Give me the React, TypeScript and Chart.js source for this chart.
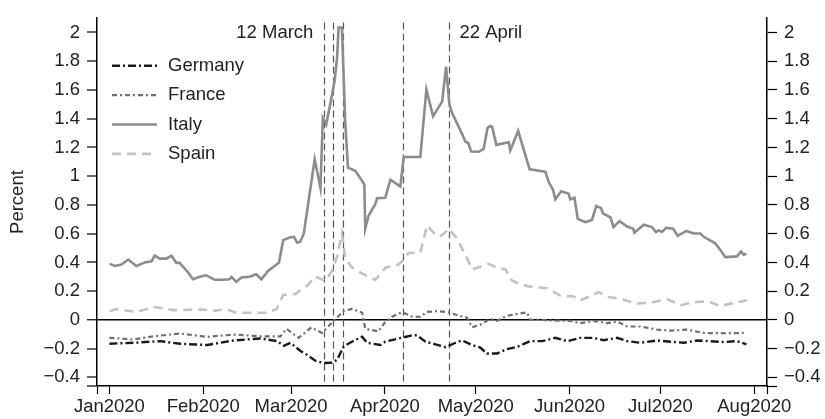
import React, { useEffect, useRef } from 'react';
import { Chart, registerables } from 'chart.js';

Chart.register(...registerables);

// ---- axis / tick data ----
const monthStartDays = [0, 31, 60, 91, 121, 152, 182, 213]; // days since 1 Jan 2020
const monthLabels = ['Jan2020', 'Feb2020', 'Mar2020', 'Apr2020', 'May2020', 'Jun2020', 'Jul2020', 'Aug2020'];
const xMin = -4.1;
const xMax = 217.2;
const yMin = -0.46;
const yMax = 2.1;
const yTickValues = [-0.4, -0.2, 0, 0.2, 0.4, 0.6, 0.8, 1, 1.2, 1.4, 1.6, 1.8, 2];

// event markers (days since 1 Jan 2020)
const eventDays = [71, 74, 77, 97, 112];
const eventLabelTexts = ['12 March', '22 April'];
const eventLabelDays = [71, 112];
const eventLabelSides = ['left', 'right'];
const eventLineTop = 2.07;
const eventLabelLevel = 2.0;

// ---- series (x = days since 1 Jan 2020, y = percent) ----
const germanyDays = [0, 8, 16.8, 23.4, 32.3, 41, 49.9, 55.4, 57.6, 59.8, 63.1, 64.7, 68, 70.8, 73.5, 75.2, 77.4, 80.2, 83.5, 85.1, 89.5, 91.1, 96.4, 100, 101.6, 104.4, 107.7, 111, 114.3, 116.5, 119.8, 122.5, 124.7, 128, 131.3, 134.6, 139, 142.9, 147.3, 151.2, 155.5, 159.9, 163.2, 167.7, 171, 175.4, 180.9, 185.3, 189.7, 194.1, 198.5, 202.9, 207.3, 210.4];
const germanyValues = [-0.166, -0.159, -0.148, -0.166, -0.175, -0.143, -0.129, -0.148, -0.18, -0.159, -0.216, -0.235, -0.284, -0.3, -0.298, -0.278, -0.184, -0.15, -0.117, -0.159, -0.175, -0.152, -0.125, -0.107, -0.107, -0.152, -0.17, -0.19, -0.159, -0.143, -0.175, -0.193, -0.234, -0.234, -0.204, -0.188, -0.148, -0.148, -0.125, -0.148, -0.125, -0.125, -0.141, -0.125, -0.148, -0.159, -0.143, -0.152, -0.159, -0.143, -0.148, -0.154, -0.148, -0.17];

const franceDays = [0, 8, 14.6, 23.4, 32.3, 41, 49.9, 56.5, 58.5, 62.5, 66.7, 70.2, 73, 74.1, 77.4, 80.2, 83.5, 84.5, 88.8, 90.9, 93.4, 96.7, 100, 102.7, 104.9, 108.7, 112.1, 115.4, 118.1, 119.8, 122.5, 125.8, 128, 131.3, 135.7, 137.9, 139, 142.9, 146.7, 152.2, 155.5, 159.9, 164.4, 167.7, 171, 175.4, 180.9, 185.3, 190.8, 196.3, 202.9, 209.5];
const franceValues = [-0.125, -0.136, -0.114, -0.095, -0.118, -0.102, -0.114, -0.114, -0.062, -0.125, -0.052, -0.091, -0.03, -0.005, 0.062, 0.077, 0.05, -0.062, -0.08, -0.02, 0.022, 0.054, 0.022, 0.022, 0.056, 0.061, 0.052, 0.029, 0.016, -0.052, -0.034, 0.007, -0.007, 0.029, 0.045, 0.052, 0, 0, -0.005, -0.007, -0.023, -0.007, -0.023, -0.011, -0.046, -0.046, -0.068, -0.075, -0.068, -0.091, -0.093, -0.091];

const italyDays = [0.1, 1.8, 4, 6.2, 8.9, 11.7, 13.9, 15, 16.6, 18.8, 20.5, 22.1, 23.2, 26, 27.6, 29.8, 32, 34.8, 37.5, 39.7, 40.3, 41.9, 43.6, 46.3, 48.5, 50.2, 52.4, 55.2, 56, 57.4, 59.5, 61, 62, 63, 64.2, 67.8, 69.7, 70.5, 71.6, 73, 74.4, 75.2, 75.7, 76.8, 77.9, 78.8, 81.2, 82.9, 84.2, 84.5, 85.6, 87.8, 88.4, 91.1, 92.8, 96.1, 97.2, 102.7, 104.7, 106.9, 109.9, 111.2, 112.3, 113.2, 116.5, 117.6, 118.5, 119.5, 122, 123.6, 124.9, 125.8, 126.4, 127.8, 131.9, 132.4, 135, 138.8, 144, 145.1, 146.5, 147.3, 149.2, 151.7, 152.2, 153.6, 154.7, 157.2, 159.4, 160.8, 162.4, 163, 165.5, 166.5, 168.5, 171, 173, 173.4, 176.5, 179.2, 180.5, 181.4, 182.5, 183.9, 186.2, 187.7, 190.6, 193, 195.2, 196.3, 200.1, 201.8, 203.4, 207.3, 208.6, 209.5, 210.4];
const italyValues = [0.39, 0.375, 0.385, 0.42, 0.375, 0.4, 0.408, 0.448, 0.426, 0.426, 0.446, 0.397, 0.397, 0.33, 0.283, 0.3, 0.31, 0.279, 0.279, 0.283, 0.299, 0.265, 0.295, 0.3, 0.317, 0.283, 0.34, 0.385, 0.397, 0.555, 0.573, 0.578, 0.537, 0.544, 0.6, 1.118, 0.918, 1.405, 1.36, 1.507, 1.667, 1.825, 2.034, 2.034, 1.371, 1.059, 1.038, 0.986, 0.941, 0.635, 0.725, 0.805, 0.846, 0.85, 0.975, 0.929, 1.133, 1.133, 1.603, 1.417, 1.519, 1.762, 1.497, 1.44, 1.293, 1.24, 1.231, 1.172, 1.17, 1.19, 1.337, 1.349, 1.344, 1.218, 1.236, 1.179, 1.315, 1.048, 1.031, 0.959, 0.907, 0.839, 0.895, 0.877, 0.839, 0.85, 0.703, 0.68, 0.696, 0.793, 0.778, 0.741, 0.714, 0.646, 0.687, 0.65, 0.635, 0.607, 0.662, 0.646, 0.612, 0.623, 0.612, 0.641, 0.635, 0.585, 0.619, 0.601, 0.601, 0.578, 0.533, 0.487, 0.437, 0.442, 0.476, 0.453, 0.46];

const spainDays = [0.1, 2.3, 8.9, 15, 21, 30.9, 33.7, 38.6, 41.9, 51.8, 55.2, 57.4, 61.4, 65.3, 68, 71.3, 73.5, 75.2, 76.8, 77.9, 80.2, 84, 87.8, 90, 91.1, 95.5, 97.2, 98.8, 102.7, 104.9, 108.2, 109.9, 112.1, 114.8, 118.1, 119.8, 125.3, 128, 130.8, 133, 135.7, 138.5, 144.5, 148.9, 153.3, 155.5, 158.8, 161.6, 164.9, 168.8, 174.3, 179.8, 184.2, 189.1, 191.9, 197.4, 201.8, 206.2, 210.6];
const spainValues = [0.061, 0.075, 0.056, 0.09, 0.068, 0.072, 0.061, 0.075, 0.05, 0.05, 0.075, 0.174, 0.181, 0.238, 0.301, 0.272, 0.34, 0.442, 0.6, 0.43, 0.363, 0.317, 0.279, 0.329, 0.363, 0.385, 0.419, 0.465, 0.469, 0.657, 0.582, 0.589, 0.635, 0.567, 0.43, 0.351, 0.39, 0.363, 0.351, 0.272, 0.249, 0.233, 0.22, 0.17, 0.163, 0.136, 0.165, 0.193, 0.159, 0.147, 0.113, 0.124, 0.143, 0.102, 0.12, 0.131, 0.097, 0.118, 0.136];

const FONT = '"Liberation Sans", Arial, Helvetica, sans-serif';
const FONT_SIZE = 18.5;
const TEXT = '#222';

function pts(days: number[], vals: number[]) {
  return days.map((d, i) => ({ x: d, y: vals[i] }));
}

function fmt(v: number): string {
  const r = Math.round(v * 10) / 10;
  const s = String(Math.abs(r));
  return r < 0 ? '\u2212' + s : s;
}

const eventPlugin = {
  id: 'eventLines',
  beforeDatasetsDraw(chart: any) {
    const { ctx, chartArea, scales } = chart;
    const xs = scales.x;
    const ys = scales.y;
    ctx.save();
    ctx.strokeStyle = '#555';
    ctx.lineWidth = 1.2;
    ctx.setLineDash([7, 4]);
    const top = ys.getPixelForValue(eventLineTop);
    for (const d of eventDays) {
      const px = Math.round(xs.getPixelForValue(d)) + 0.5;
      ctx.beginPath();
      ctx.moveTo(px, top);
      ctx.lineTo(px, chartArea.bottom);
      ctx.stroke();
    }
    ctx.setLineDash([]);
    ctx.font = FONT_SIZE + 'px ' + FONT;
    ctx.fillStyle = TEXT;
    ctx.textBaseline = 'middle';
    eventLabelTexts.forEach((t, i) => {
      const px = xs.getPixelForValue(eventLabelDays[i]);
      const py = ys.getPixelForValue(eventLabelLevel);
      const left = eventLabelSides[i] === 'left';
      ctx.textAlign = left ? 'right' : 'left';
      ctx.fillText(t, left ? px - 11 : px + 11, py);
    });
    ctx.restore();
  },
};

const legendPlugin = {
  id: 'customLegend',
  afterDraw(chart: any) {
    const { ctx } = chart;
    ctx.save();
    const x0 = 112;
    const x1 = 157;
    const tx = 168;
    const y0 = 65.7;
    const step = 29.4;
    chart.data.datasets.forEach((ds: any, i: number) => {
      const y = y0 + i * step;
      ctx.strokeStyle = ds.borderColor;
      ctx.lineWidth = ds.borderWidth;
      ctx.setLineDash(ds.borderDash || []);
      ctx.beginPath();
      ctx.moveTo(x0, y);
      ctx.lineTo(x1, y);
      ctx.stroke();
      ctx.setLineDash([]);
      ctx.font = FONT_SIZE + 'px ' + FONT;
      ctx.fillStyle = TEXT;
      ctx.textAlign = 'left';
      ctx.textBaseline = 'middle';
      ctx.fillText(ds.label, tx, y);
    });
    ctx.restore();
  },
};

export default function App() {
  const ref = useRef<HTMLCanvasElement | null>(null);
  useEffect(() => {
    if (!ref.current) return;
    const yTicksBuilder = (scale: any) => {
      scale.ticks = [yMin, ...yTickValues].map((v) => ({ value: v }));
    };
    const yTickCb = (value: any) => (Math.abs(value - yMin) < 1e-6 ? '' : fmt(Number(value)));
    const tickFont = { family: FONT, size: FONT_SIZE };
    const chart = new Chart(ref.current, {
      type: 'line',
      data: {
        datasets: [
          {
            label: 'Germany',
            data: pts(germanyDays, germanyValues),
            borderColor: '#1a1a1a',
            borderWidth: 2.4,
            borderDash: [8, 3, 2, 3],
            pointRadius: 0,
            tension: 0,
            fill: false,
          },
          {
            label: 'France',
            data: pts(franceDays, franceValues),
            borderColor: '#6e6e6e',
            borderWidth: 2.2,
            borderDash: [5, 3, 2, 3],
            pointRadius: 0,
            tension: 0,
            fill: false,
          },
          {
            label: 'Italy',
            data: pts(italyDays, italyValues),
            borderColor: '#8c8c8c',
            borderWidth: 2.6,
            pointRadius: 0,
            tension: 0,
            fill: false,
          },
          {
            label: 'Spain',
            data: pts(spainDays, spainValues),
            borderColor: '#c2c2c2',
            borderWidth: 2.6,
            borderDash: [9, 6],
            pointRadius: 0,
            tension: 0,
            fill: false,
          },
        ],
      },
      options: {
        animation: false,
        responsive: false,
        maintainAspectRatio: false,
        layout: { padding: { top: 10, left: 0, right: 0, bottom: 0 } },
        plugins: {
          legend: { display: false },
          tooltip: { enabled: false },
        },
        scales: {
          x: {
            type: 'linear',
            min: xMin,
            max: xMax,
            afterBuildTicks: (scale: any) => {
              scale.ticks = [xMin, ...monthStartDays, xMax].map((v) => ({ value: v }));
            },
            afterFit: (scale: any) => {
              scale.height = 33;
            },
            ticks: {
              autoSkip: false,
              maxRotation: 0,
              minRotation: 0,
              padding: 2,
              color: TEXT,
              font: tickFont,
              callback: (value: any) => {
                const i = monthStartDays.indexOf(Number(value));
                return i >= 0 ? monthLabels[i] : '';
              },
            },
            grid: {
              drawOnChartArea: false,
              drawTicks: true,
              tickLength: 8,
              tickColor: '#000',
              tickWidth: 1.2,
            },
            border: { display: true, color: '#000', width: 1.5 },
          },
          y: {
            type: 'linear',
            position: 'left',
            min: yMin,
            max: yMax,
            afterBuildTicks: yTicksBuilder,
            afterFit: (scale: any) => {
              scale.width = 97;
            },
            ticks: {
              autoSkip: false,
              padding: 7,
              color: TEXT,
              font: tickFont,
              callback: yTickCb,
            },
            title: {
              display: true,
              text: 'Percent',
              color: TEXT,
              font: { family: FONT, size: FONT_SIZE },
              padding: { top: 7, bottom: 0 },
            },
            grid: {
              drawOnChartArea: true,
              drawTicks: true,
              tickLength: 10,
              tickColor: '#000',
              tickWidth: 1.2,
              color: (ctx: any) => (ctx.tick && ctx.tick.value === 0 ? '#000' : 'rgba(0,0,0,0)'),
              lineWidth: (ctx: any) => (ctx.tick && ctx.tick.value === 0 ? 1.5 : 0),
            },
            border: { display: true, color: '#000', width: 1.5 },
          },
          y2: {
            type: 'linear',
            position: 'right',
            min: yMin,
            max: yMax,
            afterBuildTicks: yTicksBuilder,
            afterFit: (scale: any) => {
              scale.width = 58;
            },
            ticks: {
              autoSkip: false,
              padding: 7,
              color: TEXT,
              font: tickFont,
              callback: yTickCb,
            },
            grid: {
              drawOnChartArea: false,
              drawTicks: true,
              tickLength: 10,
              tickColor: '#000',
              tickWidth: 1.2,
            },
            border: { display: true, color: '#000', width: 1.5 },
          },
        },
      },
      plugins: [eventPlugin, legendPlugin],
    } as any);
    return () => chart.destroy();
  }, []);
  return (
    <div style={{ position: 'absolute', left: 0, top: 0, width: 825, height: 419, background: '#fff' }}>
      <canvas ref={ref} width={825} height={419} style={{ width: 825, height: 419 }} />
    </div>
  );
}
